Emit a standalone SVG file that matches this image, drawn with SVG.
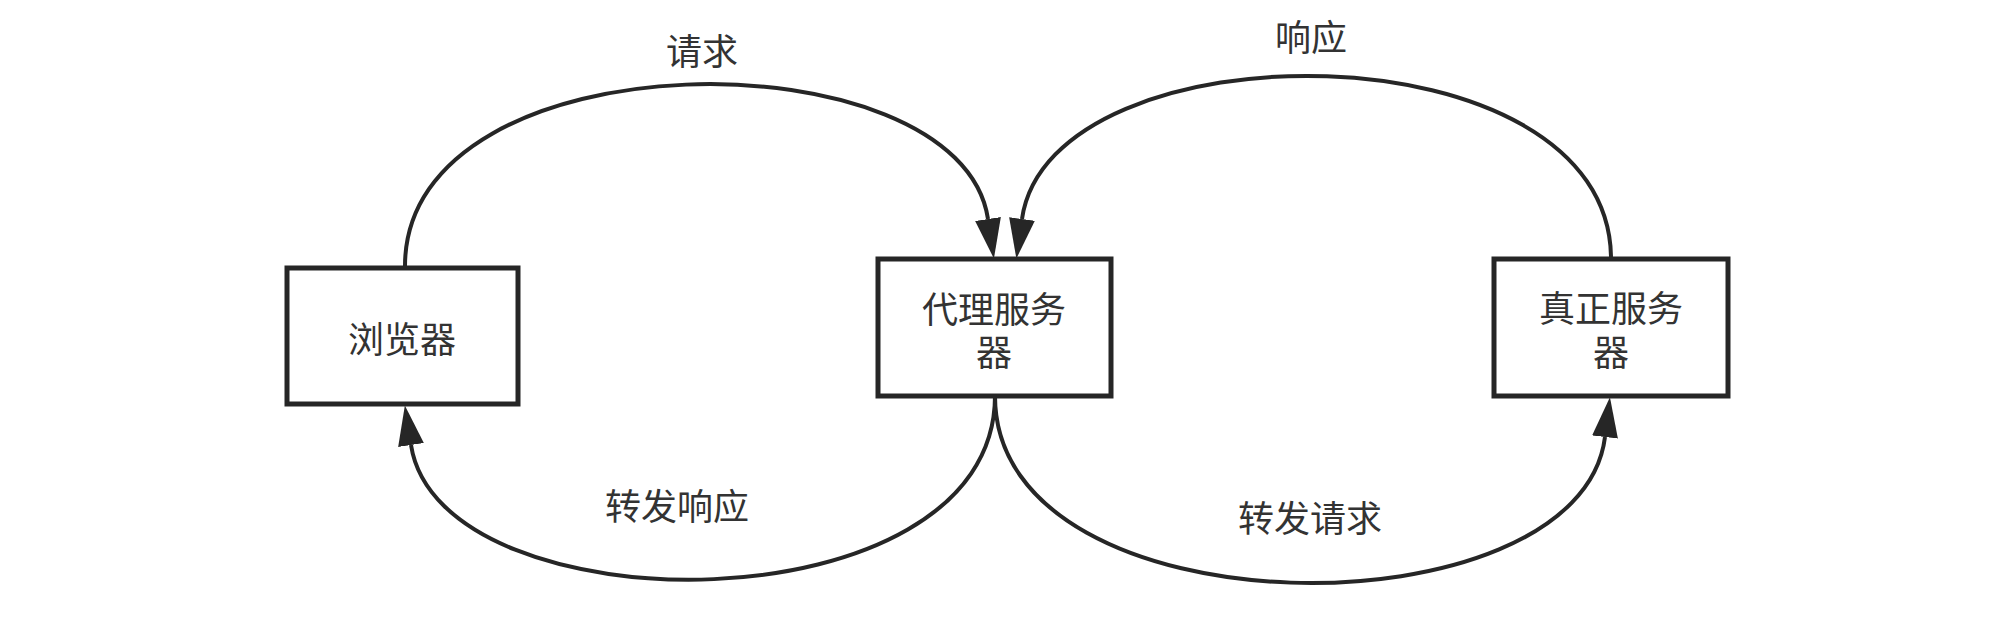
<svg xmlns="http://www.w3.org/2000/svg" width="1996" height="640" viewBox="0 0 1996 640">
  <style>
    .box { fill: #ffffff; stroke: #262626; stroke-width: 5; }
    .edge { fill: none; stroke: #262626; stroke-width: 4; }
    .lbl { font-family: "Liberation Sans", "Noto Sans CJK SC", sans-serif; font-size: 36px; fill: #333333; text-anchor: middle; }
  </style>
  <defs>
    <marker id="arrow" markerUnits="userSpaceOnUse" markerWidth="44" markerHeight="28" refX="0" refY="13" orient="auto" viewBox="0 0 44 26">
      <path d="M0,0 L40,13 L0,26 Z" fill="#262626"/>
    </marker>
  </defs>
  <rect width="1996" height="640" fill="#ffffff"/>
  <g id="connectors">
    <path id="e-request" class="edge" d="M405,266 C405,32 960,32 988,219" marker-end="url(#arrow)"/>
    <path id="e-response" class="edge" d="M1611,259 C1611,22 1050,22 1022,219" marker-end="url(#arrow)"/>
    <path id="e-fwd-response" class="edge" d="M995,396 C995,632 440,632 411,445" marker-end="url(#arrow)"/>
    <path id="e-fwd-request" class="edge" d="M995,396 C995,638 1580,638 1605,437" marker-end="url(#arrow)"/>
    <text class="lbl" x="702" y="65">请求</text>
    <text class="lbl" x="1311" y="51">响应</text>
    <text class="lbl" x="677" y="520">转发响应</text>
    <text class="lbl" x="1310" y="532">转发请求</text>
  </g>
  <g id="browser">
    <rect class="box" x="287" y="268" width="231" height="136"/>
    <text class="lbl" x="402" y="353">浏览器</text>
  </g>
  <g id="proxy">
    <rect class="box" x="878" y="259" width="233" height="137"/>
    <text class="lbl" x="994" y="323">代理服务</text>
    <text class="lbl" x="994" y="366">器</text>
  </g>
  <g id="real-server">
    <rect class="box" x="1494" y="259" width="234" height="137"/>
    <text class="lbl" x="1611" y="322">真正服务</text>
    <text class="lbl" x="1611" y="366">器</text>
  </g>
</svg>
